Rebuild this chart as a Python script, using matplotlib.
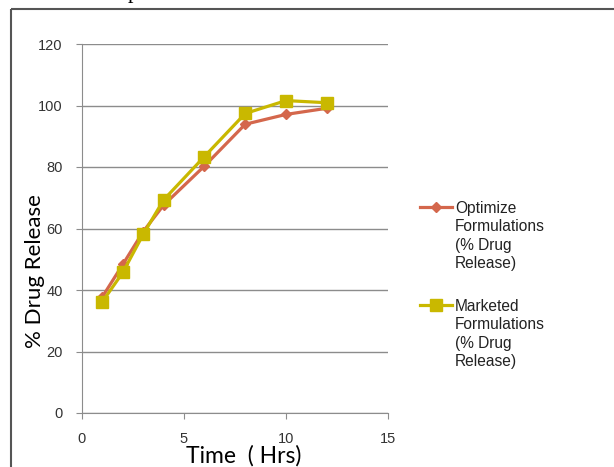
import matplotlib
matplotlib.use('Agg')
import matplotlib.pyplot as plt
from matplotlib.lines import Line2D
from matplotlib.patches import Rectangle

# time points (hrs)
time_hrs = [1, 2, 3, 4, 6, 8, 10, 12]
# % drug release
optimize = [37.8, 48.3, 59.0, 67.6, 80.3, 93.9, 97.1, 99.1]
marketed = [36.2, 45.7, 58.1, 69.3, 83.4, 97.4, 101.6, 100.9]

labels = ["Optimize\nFormulations\n(% Drug\nRelease)",
          "Marketed\nFormulations\n(% Drug\nRelease)"]

red = '#D4674C'
yellow = '#C9B800'
grey = '#8C8C8C'
W, H = 614, 467

fig = plt.figure(figsize=(W / 100, H / 100), dpi=100)
ax = fig.add_axes([82 / W, 1 - 413 / H, (388 - 82) / W, (413 - 44) / H])

ax.plot(time_hrs, optimize, color=red, lw=2.3, marker='D', markersize=5.5, zorder=3)
ax.plot(time_hrs, marketed, color=yellow, lw=2.3, marker='s', markersize=8.5, zorder=3)

ax.set_xlim(0, 15)
ax.set_ylim(0, 120)
ax.set_xticks([0, 5, 10, 15])
ax.set_yticks(range(0, 121, 20))
ax.yaxis.grid(True, color=grey, lw=1)
ax.set_axisbelow(True)
for s in ['top', 'right']:
    ax.spines[s].set_visible(False)
for s in ['left', 'bottom']:
    ax.spines[s].set_color(grey)
ax.tick_params(direction='out', length=4, color=grey, labelsize=10.5,
               labelcolor='#333333', labelfontfamily='Liberation Sans')
ax.tick_params(axis='y', pad=10)
ax.tick_params(axis='x', pad=10)


def px(x, y):
    return x / W, 1 - y / H


# axis titles placed where the reference has them
fig.text(*px(244, 456), 'Time  ( Hrs)', fontsize=16.5, family='Lato',
         ha='center', va='center')
fig.text(*px(35, 271), '% Drug Release', fontsize=16, family='Lato',
         ha='center', va='center', rotation=90)

# legend drawn by hand so the marker sits on the first line of each label
for y, col, mk, ms, lab in [(207, red, 'D', 5.5, labels[0]),
                            (305, yellow, 's', 8.5, labels[1])]:
    x0, y0 = px(420, y)
    x1, _ = px(452, y)
    fig.add_artist(Line2D([x0, x1], [y0, y0], color=col, lw=2.3))
    fig.add_artist(Line2D([(x0 + x1) / 2], [y0], color=col, marker=mk,
                          markersize=ms))
    tx, ty = px(455, y - 6)
    fig.text(tx, ty, lab, fontsize=11.2, family='Liberation Sans', va='top',
             color='#222222', linespacing=1.28)

# outer frame
fig.add_artist(Rectangle(px(11, 9), 700 / W, -500 / H, fill=False,
                         edgecolor='#555555', lw=1.5, transform=fig.transFigure,
                         clip_on=False))
fig.text(128 / W, 1.004, 'p', fontsize=16, family='Liberation Serif',
         va='baseline')

fig.savefig('out.png', dpi=100)
